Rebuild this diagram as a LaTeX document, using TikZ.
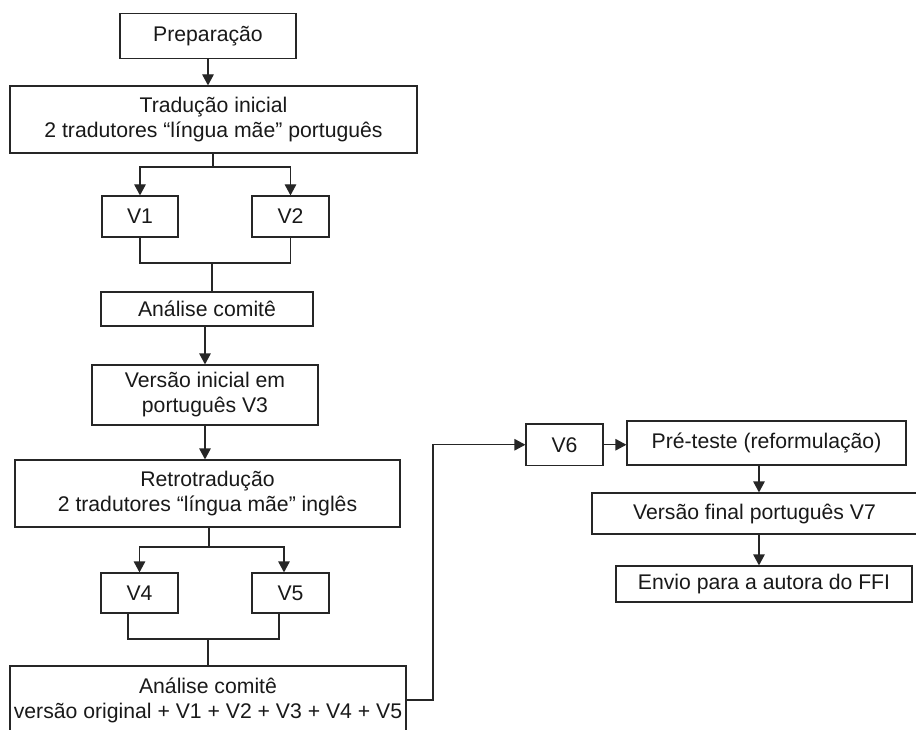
\documentclass[tikz,border=0pt]{standalone}
\usepackage{fontspec}
\setmainfont{Liberation Sans}
\usetikzlibrary{arrows.meta}
\begin{document}
\begin{tikzpicture}[x=1pt,y=-1pt,
  box/.style={draw=black!85,line width=1.2pt,inner sep=0pt,align=center,
    font=\fontsize{21.2}{25}\selectfont,text=black!90},
  ln/.style={draw=black!85,line width=1.2pt},
  arr/.style={ln,-{Triangle[width=11.5pt,length=11pt]}}]
\clip (0,0) rectangle (916,730);
\fill[white] (0,0) rectangle (916,730);
% nodes
\node[box,minimum width=176pt,minimum height=44.5pt] (prep) at (208,36) {Preparação};
\node[box,minimum width=407pt,minimum height=67pt] (trad) at (213.5,119.5) {Tradução inicial\\2 tradutores “língua mãe” português};
\node[box,minimum width=76pt,minimum height=41pt] (v1) at (140,216.5) {V1};
\node[box,minimum width=77pt,minimum height=41pt] (v2) at (290.5,216.5) {V2};
\node[box,minimum width=212pt,minimum height=34pt] (an1) at (207,309) {Análise comitê};
\node[box,minimum width=226pt,minimum height=60pt] (vi) at (205,395) {Versão inicial em\\português V3};
\node[box,minimum width=385pt,minimum height=67pt] (retro) at (207.5,493.5) {Retrotradução\\2 tradutores “língua mãe” inglês};
\node[box,minimum width=77pt,minimum height=40pt] (v4) at (139.5,593) {V4};
\node[box,minimum width=77pt,minimum height=40pt] (v5) at (290.5,593) {V5};
\node[box,minimum width=396pt,minimum height=68pt] (an2) at (208,700) {Análise comitê\\versão original + V1 + V2 + V3 + V4 + V5};
\node[box,minimum width=77pt,minimum height=41.5pt] (v6) at (564.5,444.75) {V6};
\node[box,minimum width=279pt,minimum height=44pt] (pre) at (766.5,443) {Pré-teste (reformulação)};
\node[box,minimum width=325pt,minimum height=41pt] (vf) at (754.5,513.5) {Versão final português V7};
\node[box,minimum width=296pt,minimum height=36pt] (env) at (764,584) {Envio para a autora do FFI};
% coordinates
\coordinate (j1) at (213,167);
\coordinate (j2) at (212,263);
\coordinate (j3) at (209,547);
\coordinate (j4) at (208,639);
\coordinate (c1) at (433,700);
\coordinate (p1) at ([xshift=-7.5pt]pre.south);
\coordinate (v5in) at ([xshift=-6.5pt]v5.north);
\coordinate (v4out) at ([xshift=-11.5pt]v4.south);
\coordinate (v5out) at ([xshift=-11.5pt]v5.south);
% connectors
\draw[arr] (prep.south) -- (prep.south |- trad.north);
\draw[ln] (trad.south -| j1) -- (j1);
\draw[arr] (j1) -| (v1.north);
\draw[arr] (j1) -| (v2.north);
\draw[ln] (v1.south) |- (j2) -| (v2.south);
\draw[ln] (j2) -- (j2 |- an1.north);
\draw[arr] (vi.north |- an1.south) -- (vi.north);
\draw[arr] (vi.south) -- (vi.south |- retro.north);
\draw[ln] (retro.south -| j3) -- (j3);
\draw[arr] (j3) -| (v4.north);
\draw[arr] (j3) -| (v5in);
\draw[ln] (v4out) |- (j4) -| (v5out);
\draw[ln] (j4) -- (j4 |- an2.north);
\draw[arr] (an2.east) -- (c1) |- (v6.west);
\draw[arr] (v6.east) -- (v6.east -| pre.west);
\draw[arr] (p1) -- (p1 |- vf.north);
\draw[arr] (p1 |- vf.south) -- (p1 |- env.north);
\end{tikzpicture}
\end{document}
